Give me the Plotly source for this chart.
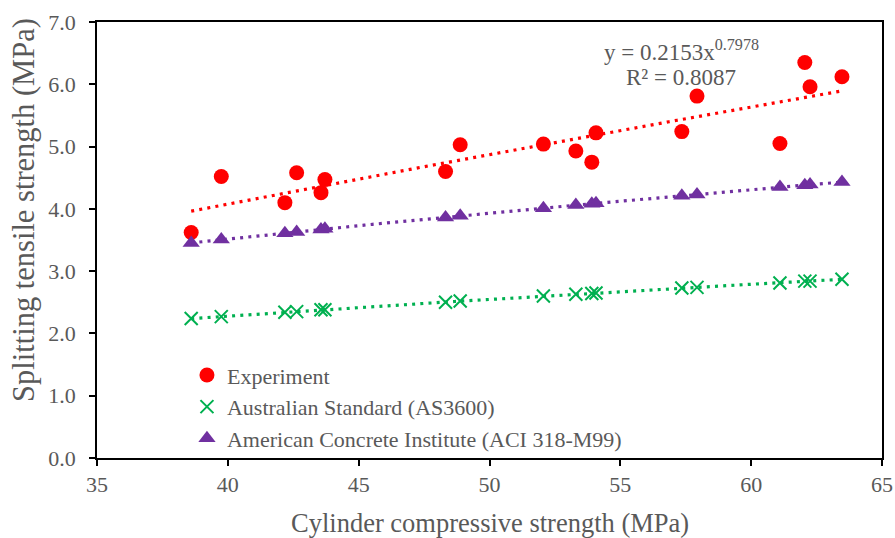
import numpy as np
import plotly.graph_objects as go

# ---- data ----
fc = [38.60, 39.75, 42.18, 42.63, 43.56, 43.71, 48.32, 48.88, 52.06,
      53.30, 53.91, 54.07, 57.35, 57.93, 61.10, 62.05, 62.25, 63.47]
experiment = [3.62, 4.52, 4.10, 4.58, 4.26, 4.47, 4.60, 5.03, 5.04,
              4.93, 4.75, 5.22, 5.24, 5.81, 5.05, 6.35, 5.96, 6.12]
as3600 = [2.24, 2.27, 2.34, 2.35, 2.38, 2.38, 2.50, 2.52, 2.60,
          2.63, 2.64, 2.65, 2.73, 2.74, 2.81, 2.84, 2.84, 2.87]
aci318 = [3.45, 3.51, 3.61, 3.63, 3.67, 3.68, 3.86, 3.89, 4.01,
          4.06, 4.08, 4.09, 4.21, 4.23, 4.35, 4.38, 4.39, 4.43]

names = ["Experiment", "Australian Standard (AS3600)",
         "American Concrete Institute (ACI 318-M99)"]
equation_lines = ["y = 0.2153x<sup>0.7978</sup>", "R² = 0.8087"]

RED, GREEN, PURPLE = "#FF0000", "#00B050", "#7030A0"
GREY = "#595959"
FONT = "Liberation Serif"

fig = go.Figure()

fig.add_trace(go.Scatter(x=fc, y=experiment, mode="markers", name=names[0],
                         marker=dict(symbol="circle", size=15, color=RED)))
fig.add_trace(go.Scatter(x=fc, y=as3600, mode="markers", name=names[1],
                         marker=dict(symbol="x-thin", size=13, color=GREEN,
                                     line=dict(color=GREEN, width=2))))
fig.add_trace(go.Scatter(x=fc, y=aci318, mode="markers", name=names[2],
                         marker=dict(symbol="triangle-up", size=15, color=PURPLE)))


def power_fit(x, y):
    x = np.asarray(x, float)
    y = np.asarray(y, float)
    b, ln_a = np.polyfit(np.log(x), np.log(y), 1)
    xs = np.linspace(x.min(), x.max(), 80)
    return xs, np.exp(ln_a) * xs ** b


for ys, col in [(experiment, RED), (as3600, GREEN), (aci318, PURPLE)]:
    xs, yf = power_fit(fc, ys)
    fig.add_trace(go.Scatter(x=xs, y=yf, mode="lines", showlegend=False,
                             hoverinfo="skip",
                             line=dict(color=col, width=3.2, dash="3px,5.2px")))

axis_common = dict(
    showgrid=False, zeroline=False, showline=True, linecolor="black",
    linewidth=1.5, mirror=True, ticks="outside", ticklen=6, tickwidth=1.5,
    tickcolor="black", tickfont=dict(family=FONT, size=22, color=GREY),
    automargin=False,
)

fig.update_xaxes(range=[35, 65], dtick=5, tick0=35, **axis_common)
fig.update_yaxes(range=[0, 7], dtick=1, tick0=0, tickformat=".1f",
                 ticklabelstandoff=9, **axis_common)

# equation lines (placed in paper coordinates)
for txt, ypos in zip(equation_lines, [0.935, 0.873]):
    fig.add_annotation(text=txt, xref="paper", yref="paper",
                       x=0.744, y=ypos, xanchor="center", yanchor="middle",
                       showarrow=False, align="center",
                       font=dict(family=FONT, size=23, color=GREY))

fig.add_annotation(text="Cylinder compressive strength (MPa)", xref="paper",
                   yref="paper", x=0.5, y=-0.150, xanchor="center",
                   yanchor="middle", showarrow=False,
                   font=dict(family=FONT, size=26.5, color=GREY))
fig.add_annotation(text="Splitting tensile strength (MPa)", xref="paper",
                   yref="paper", x=-0.093, y=0.569, xanchor="center",
                   yanchor="middle", textangle=-90, showarrow=False,
                   font=dict(family=FONT, size=30.5, color=GREY))

fig.update_layout(
    width=895, height=538,
    margin=dict(l=97, r=13, t=22, b=80, autoexpand=False),
    paper_bgcolor="white", plot_bgcolor="white",
    showlegend=True,
    legend=dict(x=0.1146, y=0.238, xanchor="left", yanchor="top",
                bgcolor="rgba(0,0,0,0)", borderwidth=0,
                font=dict(family=FONT, size=22, color=GREY),
                itemwidth=30, tracegroupgap=0),
)

fig.write_html("out.html")
